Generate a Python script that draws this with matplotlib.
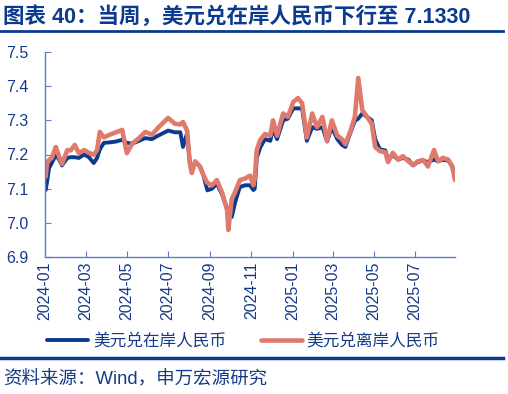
import pandas as pd
import matplotlib
matplotlib.use("Agg")
import matplotlib.dates as mdates
from matplotlib import pyplot as plt
from matplotlib.lines import Line2D

plt.rcParams['font.family'] = ['Liberation Sans', 'Noto Sans CJK SC', 'DejaVu Sans']

# 日期 + 两条汇率序列
dates = ["2024-01-02", "2024-01-04", "2024-01-07", "2024-01-11", "2024-01-17", "2024-01-22",
         "2024-01-26", "2024-02-03", "2024-02-08", "2024-02-14", "2024-02-20", "2024-02-28",
         "2024-03-06", "2024-03-13", "2024-03-18", "2024-03-22", "2024-03-28", "2024-04-08",
         "2024-04-15", "2024-04-24", "2024-05-01", "2024-05-09", "2024-05-19", "2024-05-28",
         "2024-06-07", "2024-06-16", "2024-07-01", "2024-07-11", "2024-07-19", "2024-07-23",
         "2024-07-29", "2024-08-02", "2024-08-05", "2024-08-10", "2024-08-17", "2024-08-22",
         "2024-08-28", "2024-09-04", "2024-09-11", "2024-09-19", "2024-09-26", "2024-09-28",
         "2024-10-03", "2024-10-08", "2024-10-15", "2024-10-23", "2024-10-30", "2024-11-04",
         "2024-11-06", "2024-11-09", "2024-11-14", "2024-11-21", "2024-11-29", "2024-12-03",
         "2024-12-09", "2024-12-18", "2024-12-25", "2025-01-02", "2025-01-09", "2025-01-15",
         "2025-01-22", "2025-01-30", "2025-02-06", "2025-02-14", "2025-02-21", "2025-02-28",
         "2025-03-08", "2025-03-15", "2025-03-20", "2025-03-27", "2025-04-03", "2025-04-08",
         "2025-04-14", "2025-04-21", "2025-04-28", "2025-05-03", "2025-05-10", "2025-05-18",
         "2025-05-22", "2025-05-29", "2025-06-06", "2025-06-13", "2025-06-21", "2025-06-28",
         "2025-07-05", "2025-07-13", "2025-07-20", "2025-07-29", "2025-08-04", "2025-08-11",
         "2025-08-19", "2025-08-25", "2025-08-29"]

onshore = [7.096, 7.120, 7.160, 7.175, 7.199, 7.185,
           7.168, 7.190, 7.192, 7.192, 7.190, 7.200,
           7.192, 7.175, 7.190, 7.215, 7.234, 7.236,
           7.238, 7.243, 7.234, 7.232, 7.240, 7.248,
           7.245, 7.255, 7.270, 7.265, 7.265, 7.222,
           7.262, 7.178, 7.160, 7.178, 7.165, 7.140,
           7.095, 7.100, 7.115, 7.082, 7.040, 7.035,
           7.017, 7.060, 7.105, 7.110, 7.110, 7.096,
           7.100, 7.190, 7.220, 7.245, 7.240, 7.275,
           7.245, 7.300, 7.305, 7.335, 7.335, 7.335,
           7.240, 7.280, 7.275, 7.280, 7.238, 7.280,
           7.245, 7.228, 7.222, 7.262, 7.298, 7.305,
           7.320, 7.310, 7.300, 7.245, 7.215, 7.212,
           7.185, 7.198, 7.185, 7.190, 7.185, 7.168,
           7.178, 7.182, 7.178, 7.185, 7.180, 7.185,
           7.182, 7.165, 7.134]

offshore = [7.135, 7.175, 7.184, 7.190, 7.222, 7.193,
            7.172, 7.213, 7.212, 7.228, 7.204, 7.213,
            7.205, 7.199, 7.213, 7.266, 7.250, 7.260,
            7.265, 7.272, 7.204, 7.232, 7.248, 7.266,
            7.258, 7.278, 7.307, 7.290, 7.288, 7.295,
            7.270, 7.175, 7.146, 7.180, 7.165, 7.140,
            7.117, 7.110, 7.125, 7.087, 7.040, 6.979,
            7.070, 7.090, 7.125, 7.130, 7.138, 7.110,
            7.130, 7.213, 7.242, 7.260, 7.255, 7.300,
            7.255, 7.320, 7.310, 7.354, 7.365, 7.350,
            7.250, 7.320, 7.280, 7.310, 7.240, 7.300,
            7.255, 7.245, 7.230, 7.266, 7.310, 7.424,
            7.330, 7.310, 7.290, 7.222, 7.210, 7.207,
            7.178, 7.205, 7.185, 7.195, 7.180, 7.170,
            7.180, 7.184, 7.165, 7.213, 7.180, 7.190,
            7.185, 7.165, 7.125]

tick_dates = ["2024-01-01", "2024-03-01", "2024-05-01", "2024-07-01", "2024-09-01",
              "2024-11-01", "2025-01-01", "2025-03-01", "2025-05-01", "2025-07-01"]

title = "图表 40：当周，美元兑在岸人民币下行至 7.1330"
source = "资料来源：Wind，申万宏源研究"
names = ["美元兑在岸人民币", "美元兑离岸人民币"]

navy = "#0B3A8F"
salmon = "#E07A6C"
text_blue = "#163A8A"
spine_blue = "#5B7FC8"

x = pd.to_datetime(dates)

fig = plt.figure(figsize=(5.08, 3.94), dpi=100)
ax = fig.add_axes([45 / 508, 1 - 257 / 394, 410 / 508, 205 / 394])

ax.plot(x, onshore, color=navy, lw=2.8, solid_capstyle="round", solid_joinstyle="round",
        label=names[0])
ax.plot(x, offshore, color=salmon, lw=3.3, solid_capstyle="round", solid_joinstyle="round",
        label=names[1])

ax.set_ylim(6.9, 7.5)
ax.set_yticks([6.9, 7.0, 7.1, 7.2, 7.3, 7.4, 7.5])
ax.set_xlim(pd.Timestamp("2024-01-01"), pd.Timestamp("2025-08-29"))
ax.set_xticks(pd.to_datetime(tick_dates))
ax.xaxis.set_major_formatter(mdates.DateFormatter("%Y-%m"))
for lab in ax.get_xticklabels():
    lab.set_rotation(90)

ax.tick_params(axis="both", direction="in", length=4, color=spine_blue,
               labelcolor=text_blue, labelsize=11.5)
ax.tick_params(axis="y", pad=12)
ax.tick_params(axis="x", pad=3)
for s in ["top", "right"]:
    ax.spines[s].set_visible(False)
for s in ["left", "bottom"]:
    ax.spines[s].set_color(spine_blue)
    ax.spines[s].set_linewidth(1.0)

fig.text(3 / 508, 1 - 17 / 394, title, fontsize=15.5, fontweight="bold",
         color=navy, va="center", ha="left")
fig.add_artist(Line2D([0, 503 / 508], [1 - 31 / 394] * 2, color=navy, lw=2))
fig.add_artist(Line2D([0, 503 / 508], [1 - 358 / 394] * 2, color=navy, lw=2.5))
fig.text(3 / 508, 1 - 380 / 394, source, fontsize=13.3, color=text_blue,
         va="center", ha="left")

fig.legend(loc="center left", bbox_to_anchor=(47 / 508, 1 - 341 / 394), ncol=2,
           frameon=False, fontsize=12, handlelength=2.45, handletextpad=0.3,
           columnspacing=2.1, borderpad=0, borderaxespad=0, labelcolor=text_blue)

fig.savefig("out.png", dpi=100)
